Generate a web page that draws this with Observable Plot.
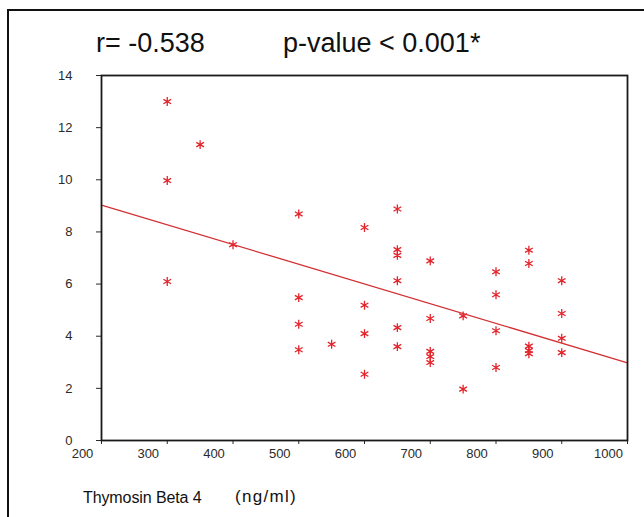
<!DOCTYPE html>
<html>
<head>
<meta charset="utf-8">
<script src="https://cdn.jsdelivr.net/npm/d3@7"></script>
<script src="https://cdn.jsdelivr.net/npm/@observablehq/plot@0.6"></script>
<style>
  html, body { margin: 0; padding: 0; background: #fff; overflow: hidden; }
  #wrap { position: relative; width: 644px; height: 517px; overflow: hidden; font-family: Arial, "Liberation Sans", sans-serif; }
  #outer { position: absolute; left: 7px; top: 9px; width: 700px; height: 600px; border-left: 2px solid #111; border-top: 2px solid #111; }
  .t { position: absolute; white-space: nowrap; color: #111; }
  #chart { position: absolute; left: 0; top: 0; }
</style>
</head>
<body>
<div id="wrap">
  <div id="outer"></div>
  <div id="chart"></div>
  <div class="t" id="r" style="left:96px; top:30px; font-size:27px; line-height:27px;"></div>
  <div class="t" id="p" style="left:283px; top:30px; font-size:27px; line-height:27px;"></div>
  <div class="t" id="xl" style="left:83px; top:490px; font-size:16px; line-height:16px; letter-spacing:-0.1px;"></div>
  <div class="t" id="xu" style="left:235px; top:488px; font-size:17px; line-height:17px; letter-spacing:1.3px;"></div>
</div>
<script>
// Data
const thymosin = [300, 300, 300, 350, 400,
  500, 500, 500, 500, 550,
  600, 600, 600, 600,
  650, 650, 650, 650, 650, 650,
  700, 700, 700, 700, 700,
  750, 750,
  800, 800, 800, 800,
  850, 850, 850, 850, 850,
  900, 900, 900, 900];
const outcome = [13.0, 9.97, 6.10, 11.35, 7.51,
  8.69, 5.48, 4.46, 3.48, 3.69,
  8.17, 5.19, 4.10, 2.54,
  8.88, 7.32, 7.10, 6.13, 4.33, 3.60,
  6.89, 4.68, 3.42, 3.22, 2.99,
  4.78, 1.97,
  6.47, 5.59, 4.21, 2.80,
  7.30, 6.79, 3.62, 3.45, 3.33,
  6.13, 4.87, 3.92, 3.37];
const fitX = [200, 1000];
const fitY = [9.03, 2.98];
const xTicks = [200, 300, 400, 500, 600, 700, 800, 900, 1000];
const yTicks = [0, 2, 4, 6, 8, 10, 12, 14];
const statR = "r= -0.538";
const statP = "p-value < 0.001*";
const xLabel = "Thymosin Beta 4";
const xUnit = "(ng/ml)";

const points = thymosin.map((x, i) => ({x, y: outcome[i]}));
const fit = fitX.map((x, i) => ({x, y: fitY[i]}));

const red = "#e3242b";
const fmt = d => String(d);

const chart = Plot.plot({
  width: 644,
  height: 517,
  marginLeft: 101,
  marginRight: 17,
  marginTop: 75,
  marginBottom: 77,
  style: {fontFamily: "Arial, 'Liberation Sans', sans-serif", fontSize: "13px", color: "#2a2a2a", background: "transparent"},
  x: {domain: [200, 1000], ticks: xTicks, label: null},
  y: {domain: [0, 14], ticks: yTicks, label: null},
  marks: [
    // tick marks at true positions
    Plot.axisX({ticks: xTicks, tickSize: 4, text: null, label: null}),
    // labels (offset left as in the reference)
    Plot.axisX({ticks: xTicks, tickSize: 0, tickPadding: 8, dx: -19, tickFormat: fmt, label: null, fontSize: 13}),
    Plot.axisY({ticks: yTicks, tickSize: 5, tickPadding: 24, tickFormat: fmt, label: null, fontSize: 13}),
    Plot.line(fit, {x: "x", y: "y", stroke: "#d42f33", strokeWidth: 1.3}),
    Plot.dot(points, {x: "x", y: "y", symbol: "asterisk", r: 4.2, stroke: red, strokeWidth: 1.3}),
    Plot.frame({stroke: "#1a1a1a", strokeWidth: 1.8})
  ]
});
document.getElementById("chart").appendChild(chart);
document.getElementById("r").textContent = statR;
document.getElementById("p").textContent = statP;
document.getElementById("xl").textContent = xLabel;
document.getElementById("xu").textContent = xUnit;
</script>
</body>
</html>
